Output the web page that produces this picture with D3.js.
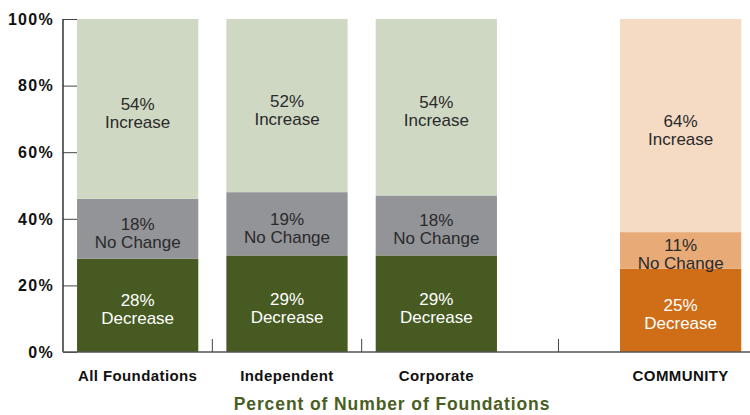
<!DOCTYPE html>
<html>
<head>
<meta charset="utf-8">
<script src="https://cdn.jsdelivr.net/npm/d3@7"></script>
<style>
  body { margin: 0; background: #fff; }
  svg { font-family: "Liberation Sans", Arial, sans-serif; }
</style>
</head>
<body>
<div id="chart"></div>
<script>
// data
var groups = ["All Foundations", "Independent", "Corporate"];
var otherGroups = ["COMMUNITY"];
var segments = ["Decrease", "No Change", "Increase"];
var decrease = [28, 29, 29, 25];
var noChange = [18, 19, 18, 11];
var increase = [54, 52, 54, 64];
var yTicks = [0, 20, 40, 60, 80, 100];

var svgWidth = 750;
var svgHeight = 415;
var margin = { top: 19, right: 0, bottom: 63, left: 63 };
var chartHeight = svgHeight - margin.top - margin.bottom;

var svg = d3.select("#chart")
  .append("svg")
  .attr("width", svgWidth)
  .attr("height", svgHeight);

var chartGroup = svg.append("g")
  .attr("transform", `translate(${margin.left}, ${margin.top})`);

var yScale = d3.scaleLinear()
  .domain([0, 100])
  .range([chartHeight, 0]);

// foundation types share one band scale, community sits apart
var xMain = d3.scaleBand()
  .domain(groups)
  .range([0, 448])
  .paddingInner(0.188)
  .paddingOuter(0.094);

var xOther = d3.scaleBand()
  .domain(otherGroups)
  .range([543, 692])
  .paddingInner(0.188)
  .paddingOuter(0.094);

var allNames = groups.concat(otherGroups);
function xPos(name) {
  return groups.indexOf(name) >= 0 ? xMain(name) : xOther(name);
}
var bandW = xMain.bandwidth();

var greenColors = ["#465a22", "#939498", "#cfd8c3"];
var orangeColors = ["#d06e18", "#e8ab78", "#f5dbc4"];
var textColors = ["#ffffff", "#2a2a2a", "#2a2a2a"];

var table = allNames.map(function(name, i) {
  return { name: name, "Decrease": decrease[i], "No Change": noChange[i], "Increase": increase[i] };
});

var stack = d3.stack().keys(segments);
var series = stack(table);

// y axis ticks drawn inward
chartGroup.append("g")
  .call(d3.axisRight(yScale).tickValues(yTicks).tickSize(14).tickFormat(""))
  .call(g => g.select(".domain").remove())
  .selectAll("line")
  .attr("stroke", "#444");

chartGroup.selectAll(".ylab")
  .data(yTicks)
  .enter()
  .append("text")
  .attr("x", -9)
  .attr("y", d => yScale(d))
  .attr("dy", "0.36em")
  .attr("text-anchor", "end")
  .attr("font-size", "16px")
  .attr("font-weight", "bold")
  .attr("letter-spacing", "1.3px")
  .attr("fill", "#111")
  .text(d => d + "%");

// bars
series.forEach(function(s, si) {
  chartGroup.selectAll(null)
    .data(s)
    .enter()
    .append("rect")
    .attr("x", d => xPos(d.data.name))
    .attr("y", d => yScale(Math.min(d[1], 100)))
    .attr("width", bandW)
    .attr("height", d => yScale(d[0]) - yScale(Math.min(d[1], 100)))
    .attr("fill", d => groups.indexOf(d.data.name) >= 0 ? greenColors[si] : orangeColors[si]);

  var labels = chartGroup.selectAll(null)
    .data(s)
    .enter()
    .append("text")
    .attr("text-anchor", "middle")
    .attr("font-size", "17px")
    .attr("fill", textColors[si])
    .attr("transform", function(d) {
      var mid = (yScale(d[0]) + yScale(Math.min(d[1], 100))) / 2;
      return `translate(${xPos(d.data.name) + bandW / 2}, ${mid})`;
    });
  labels.append("tspan")
    .attr("x", 0)
    .attr("y", 1)
    .text(d => (d[1] - d[0]) + "%");
  labels.append("tspan")
    .attr("x", 0)
    .attr("y", 19)
    .text(segments[si]);
});

// axis lines
chartGroup.append("line")
  .attr("x1", 0).attr("x2", 0)
  .attr("y1", 0).attr("y2", chartHeight)
  .attr("stroke", "#333").attr("stroke-width", 1.5);

chartGroup.append("line")
  .attr("x1", 0).attr("x2", svgWidth - margin.left)
  .attr("y1", chartHeight).attr("y2", chartHeight)
  .attr("stroke", "#555").attr("stroke-width", 1.5);

// separators between categories
var seps = [];
for (var i = 0; i < allNames.length - 1; i++) {
  seps.push((xPos(allNames[i]) + bandW + xPos(allNames[i + 1])) / 2);
}
chartGroup.selectAll(".sep")
  .data(seps)
  .enter()
  .append("line")
  .attr("x1", d => d).attr("x2", d => d)
  .attr("y1", chartHeight - 13).attr("y2", chartHeight)
  .attr("stroke", "#444");

// category labels
chartGroup.selectAll(".xlab")
  .data(allNames)
  .enter()
  .append("text")
  .attr("x", d => xPos(d) + bandW / 2)
  .attr("y", chartHeight + 29)
  .attr("text-anchor", "middle")
  .attr("font-size", "15px")
  .attr("font-weight", "bold")
  .attr("letter-spacing", "0.4px")
  .attr("fill", "#111")
  .text(d => d);

svg.append("text")
  .attr("x", 392)
  .attr("y", 410)
  .attr("text-anchor", "middle")
  .attr("font-size", "17.5px")
  .attr("font-weight", "bold")
  .attr("letter-spacing", "0.9px")
  .attr("fill", "#4a5e23")
  .text("Percent of Number of Foundations");
</script>
</body>
</html>
